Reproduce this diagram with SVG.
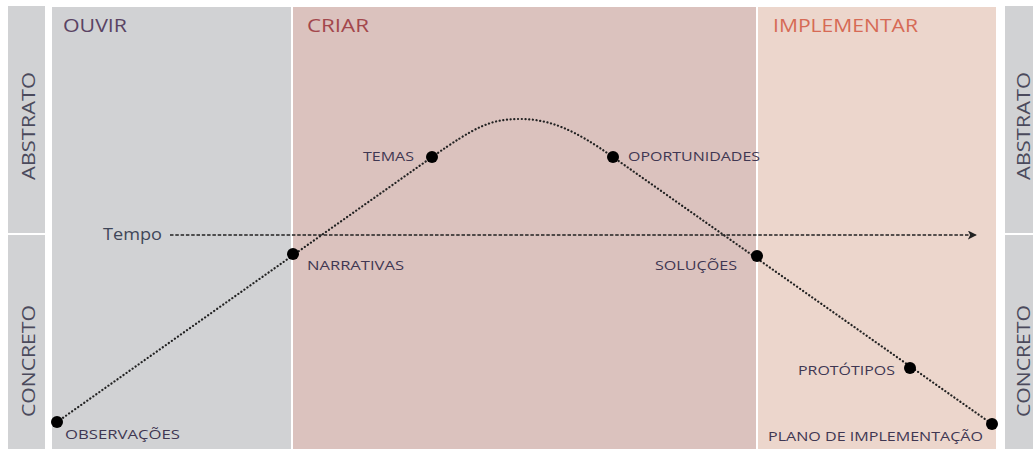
<svg xmlns="http://www.w3.org/2000/svg" width="1033" height="457" viewBox="0 0 1033 457">
  <defs>
    <style>
      .bar { fill: #d1d2d4; }
      .side { font-family: "Open Sans", "Liberation Sans", Arial, sans-serif; font-size: 18px; fill: #4b4a5c; text-anchor: middle; }
      .head { font-family: "Open Sans", "Liberation Sans", Arial, sans-serif; font-size: 19px; font-weight: 500; }
      .lbl { font-family: "Open Sans", "Liberation Sans", Arial, sans-serif; font-size: 13.5px; font-weight: 500; fill: #3f3752; }
      .dot { fill: #000; }
      .curve { fill: none; stroke: #222; stroke-width: 2.2; stroke-dasharray: 0.1 3.6; stroke-linecap: round; }
      .time { fill: none; stroke: #222; stroke-width: 1.3; stroke-dasharray: 3.5 1.8; }
    </style>
    <marker id="arrow" viewBox="0 0 10 10" refX="9" refY="5" markerWidth="9" markerHeight="9" markerUnits="userSpaceOnUse" orient="auto">
      <path d="M0,0 L10,5 L0,10 L2.5,5 Z" fill="#222"/>
    </marker>
  </defs>
  <rect width="1033" height="457" fill="#ffffff"/>

  <g id="side-left">
    <rect class="bar" x="8" y="6" width="37" height="227"/>
    <rect class="bar" x="8" y="235" width="37" height="214"/>
    <text class="side" transform="translate(35,126) rotate(-90)" textLength="108" lengthAdjust="spacingAndGlyphs">ABSTRATO</text>
    <text class="side" transform="translate(35,361) rotate(-90)" textLength="112" lengthAdjust="spacingAndGlyphs">CONCRETO</text>
  </g>

  <g id="side-right">
    <rect class="bar" x="1005" y="6" width="28" height="227"/>
    <rect class="bar" x="1005" y="235" width="28" height="214"/>
    <text class="side" transform="translate(1030,126) rotate(-90)" textLength="108" lengthAdjust="spacingAndGlyphs">ABSTRATO</text>
    <text class="side" transform="translate(1030,361) rotate(-90)" textLength="112" lengthAdjust="spacingAndGlyphs">CONCRETO</text>
  </g>

  <g id="phase-ouvir">
    <rect x="52" y="7" width="239" height="442" fill="#d1d2d4"/>
    <text class="head" x="63" y="32" fill="#5a4363" textLength="64" lengthAdjust="spacingAndGlyphs">OUVIR</text>
  </g>
  <g id="phase-criar">
    <rect x="293" y="7" width="463" height="442" fill="#dbc2be"/>
    <text class="head" x="307" y="32" fill="#a3474c" textLength="62" lengthAdjust="spacingAndGlyphs">CRIAR</text>
  </g>
  <g id="phase-implementar">
    <rect x="758" y="7" width="238" height="442" fill="#ecd6cc"/>
    <text class="head" x="773" y="32" fill="#d66a55" textLength="145" lengthAdjust="spacingAndGlyphs">IMPLEMENTAR</text>
  </g>

  <g id="connectors">
    <path class="time" d="M170,235 L976,235" marker-end="url(#arrow)"/>
    <path class="curve" d="M57,422 L432,157 C475,127 490,119 520,119 C550,119 575,130 613,157 L992,424"/>
  </g>

  <g id="tempo-label">
    <text x="103" y="240" font-family="Open Sans, Liberation Sans, Arial, sans-serif" font-size="16" fill="#3f4658" textLength="59" lengthAdjust="spacingAndGlyphs">Tempo</text>
  </g>

  <g id="node-observacoes">
    <circle class="dot" cx="57" cy="422" r="6"/>
    <text class="lbl" x="65" y="439" textLength="115" lengthAdjust="spacingAndGlyphs">OBSERVAÇÕES</text>
  </g>
  <g id="node-narrativas">
    <circle class="dot" cx="293" cy="254" r="6"/>
    <text class="lbl" x="307" y="270" textLength="97" lengthAdjust="spacingAndGlyphs">NARRATIVAS</text>
  </g>
  <g id="node-temas">
    <circle class="dot" cx="432" cy="157" r="6"/>
    <text class="lbl" x="363" y="161" textLength="51" lengthAdjust="spacingAndGlyphs">TEMAS</text>
  </g>
  <g id="node-oportunidades">
    <circle class="dot" cx="613" cy="157" r="6"/>
    <text class="lbl" x="628" y="161" textLength="132" lengthAdjust="spacingAndGlyphs">OPORTUNIDADES</text>
  </g>
  <g id="node-solucoes">
    <circle class="dot" cx="757" cy="256" r="6"/>
    <text class="lbl" x="655" y="270" textLength="82" lengthAdjust="spacingAndGlyphs">SOLUÇÕES</text>
  </g>
  <g id="node-prototipos">
    <circle class="dot" cx="910" cy="368" r="6"/>
    <text class="lbl" x="798" y="375" textLength="97" lengthAdjust="spacingAndGlyphs">PROTÓTIPOS</text>
  </g>
  <g id="node-plano">
    <circle class="dot" cx="992" cy="424" r="6"/>
    <text class="lbl" x="768" y="441" textLength="215" lengthAdjust="spacingAndGlyphs">PLANO DE IMPLEMENTAÇÃO</text>
  </g>
</svg>
